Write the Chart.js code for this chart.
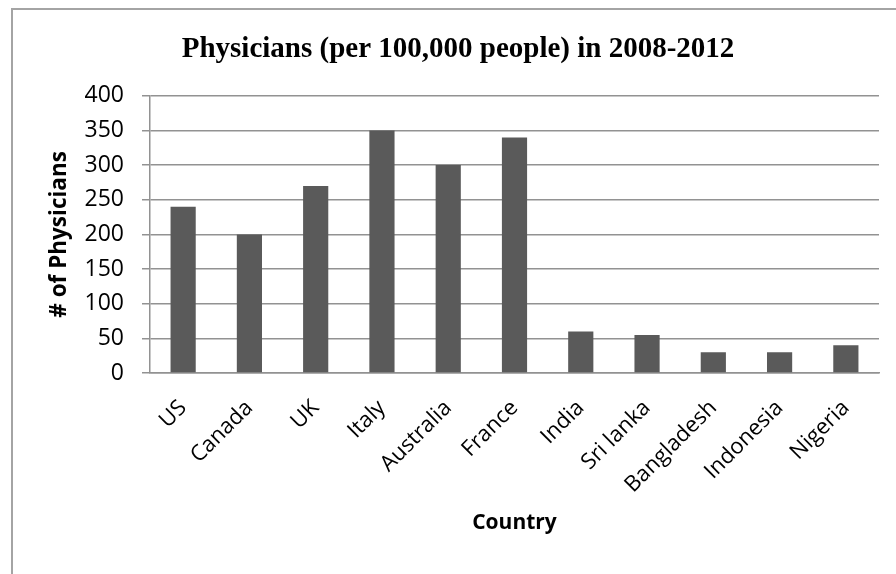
<!DOCTYPE html>
<html lang="en">
<head>
    <meta charset="UTF-8">
    <title>Physicians (per 100,000 people) in 2008-2012</title>
    <script src="https://cdn.jsdelivr.net/npm/chart.js"></script>
    <style>
        body {
            margin: 0;
            background: #fff;
            overflow: hidden;
        }
        .frame {
            position: absolute;
            left: 11px;
            top: 8px;
            width: 900px;
            height: 580px;
            border-left: 2px solid #a4a4a4;
            border-top: 2px solid #a4a4a4;
        }
        #chart {
            position: absolute;
            left: 0;
            top: 0;
        }
    </style>
</head>
<body>
    <div class="frame"></div>
    <canvas id="chart" width="896" height="574"></canvas>

    <script>
        // data
        const countries = ['US', 'Canada', 'UK', 'Italy', 'Australia', 'France', 'India', 'Sri lanka', 'Bangladesh', 'Indonesia', 'Nigeria'];
        const physicians = [240, 200, 270, 350, 300, 340, 60, 55, 30, 30, 40];
        const yMin = 0;
        const yMax = 400;
        const yStep = 50;

        const gridGray = '#929292';
        const labelFont = "'Open Sans', 'Liberation Sans', sans-serif";

        const ctx = document.getElementById('chart').getContext('2d');
        new Chart(ctx, {
            type: 'bar',
            data: {
                labels: countries,
                datasets: [{
                    label: '# of Physicians',
                    data: physicians,
                    backgroundColor: '#5a5a5a',
                    borderWidth: 0,
                    categoryPercentage: 1,
                    barPercentage: 0.38
                }]
            },
            options: {
                responsive: false,
                animation: false,
                layout: {
                    // left padding pushes the title centre to the right like the original
                    padding: { left: 37, right: 17, top: 0, bottom: 0 }
                },
                plugins: {
                    legend: { display: false },
                    tooltip: { enabled: false },
                    title: {
                        display: true,
                        text: 'Physicians (per 100,000 people) in 2008-2012',
                        color: '#000',
                        font: { family: "'Liberation Serif', serif", size: 29, weight: 'bold' },
                        padding: { top: 32, bottom: 29 }
                    }
                },
                scales: {
                    x: {
                        grid: { display: false },
                        border: { display: true, color: gridGray, width: 1.5 },
                        ticks: {
                            color: '#000',
                            font: { family: labelFont, size: 22 },
                            maxRotation: 45,
                            minRotation: 45,
                            padding: 14
                        },
                        title: {
                            display: true,
                            text: 'Country',
                            color: '#000',
                            font: { family: labelFont, size: 21, weight: 'bold' },
                            padding: { top: 0, bottom: 38 }
                        },
                        afterFit: function (scale) { scale.height = 201; }
                    },
                    y: {
                        min: yMin,
                        max: yMax,
                        grid: { color: gridGray, lineWidth: 1.5, tickLength: 8 },
                        border: { display: true, color: gridGray, width: 1.5 },
                        ticks: {
                            stepSize: yStep,
                            color: '#000',
                            font: { family: labelFont, size: 23 },
                            padding: 18
                        },
                        title: {
                            display: true,
                            text: '# of Physicians',
                            color: '#000',
                            font: { family: labelFont, size: 22.5, weight: 'bold' },
                            padding: { top: 9, bottom: 0 }
                        },
                        afterFit: function (scale) { scale.width = 113; }
                    }
                }
            }
        });
    </script>
</body>
</html>
